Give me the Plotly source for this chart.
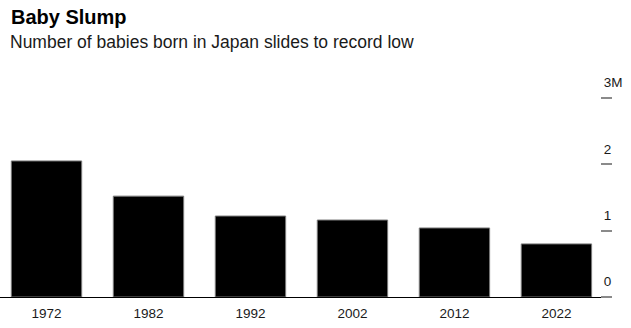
import plotly.graph_objects as go

years = ["1972", "1982", "1992", "2002", "2012", "2022"]
births_m = [2.05, 1.52, 1.22, 1.16, 1.04, 0.80]

y_tickvals = [0, 1, 2, 3]
y_ticktext = ["0", "1", "2", "3M"]

W, H = 631, 328
T, B, R = 80, 31, 20
PW = W - R  # plot area width in px (l=0)
FONT = "Liberation Sans, Arial, Helvetica, sans-serif"

def py(px):
    # pixel y (from top) -> paper fraction
    return (H - B - px) / (H - T - B)

fig = go.Figure(
    go.Bar(
        x=years,
        y=births_m,
        marker=dict(color="#000000", line=dict(color="#7a7a7a", width=1)),
        width=0.69,
        hoverinfo="skip",
    )
)

fig.update_layout(
    width=W,
    height=H,
    margin=dict(l=0, r=R, t=T, b=B, pad=0),
    paper_bgcolor="white",
    plot_bgcolor="white",
    showlegend=False,
    font=dict(family=FONT, size=13, color="#1a1a1a"),
    title=dict(
        text="<b>Baby Slump</b>",
        font=dict(family=FONT, size=20, color="#000000"),
        xref="container", yref="container",
        x=11 / W, y=1 - 17 / H, xanchor="left", yanchor="middle",
    ),
    annotations=[
        dict(
            text="Number of babies born in Japan slides to record low",
            xref="paper", yref="paper",
            x=8 / PW, y=py(42), xanchor="left", yanchor="middle",
            showarrow=False,
            font=dict(family=FONT, size=17.5, color="#1a1a1a"),
        )
    ],
    xaxis=dict(
        type="category",
        range=[-0.456, 5.535],
        domain=[0, 1],
        showline=True, linecolor="#000000", linewidth=1,
        ticks="", showgrid=False, zeroline=False,
        tickfont=dict(family=FONT, size=13.5, color="#1a1a1a"),
        ticklabelstandoff=4,
        fixedrange=True,
    ),
    yaxis=dict(
        range=[0, 3.27],
        side="right",
        anchor="free",
        position=600 / PW,
        tickvals=y_tickvals,
        ticktext=y_ticktext,
        ticks="outside", ticklen=11, tickwidth=2, tickcolor="#8a8a8a",
        ticklabelposition="outside top",
        ticklabelshift=-5,
        showgrid=False, zeroline=False, showline=False,
        tickfont=dict(family=FONT, size=13.5, color="#1a1a1a"),
        fixedrange=True,
    ),
)

fig.write_html("out.html")
